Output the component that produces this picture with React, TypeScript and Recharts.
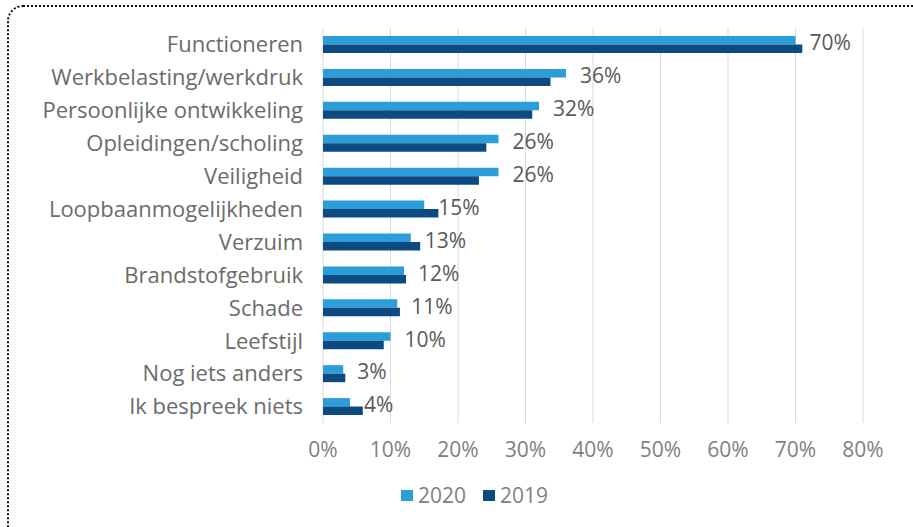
import React from 'react';
import { BarChart, Bar, XAxis, YAxis, CartesianGrid, Legend, LabelList } from 'recharts';

const categories = [
  'Functioneren',
  'Werkbelasting/werkdruk',
  'Persoonlijke ontwikkeling',
  'Opleidingen/scholing',
  'Veiligheid',
  'Loopbaanmogelijkheden',
  'Verzuim',
  'Brandstofgebruik',
  'Schade',
  'Leefstijl',
  'Nog iets anders',
  'Ik bespreek niets',
];
const values2020 = [70, 36, 32, 26, 26, 15, 13, 12, 11, 10, 3, 4];
const values2019 = [71, 33.7, 31, 24.2, 23.1, 17.1, 14.4, 12.3, 11.4, 9, 3.3, 5.9];
const xTicks = [0, 10, 20, 30, 40, 50, 60, 70, 80];
const seriesNames = ['2020', '2019'];
const colors = ['#2B9DD8', '#0D4A82'];

const data = categories.map((c, i) => ({ name: c, v2020: values2020[i], v2019: values2019[i] }));

const FONT = '"Open Sans", sans-serif';
const FS = 21;

const DataLabel = (props: any) => {
  const { x, y, width, height, value } = props;
  return (
    <text
      x={x + width + 14}
      y={y + height / 2 + 2}
      fill="#595959"
      fontSize={FS}
      fontFamily={FONT}
      dominantBaseline="central"
    >
      {`${value}%`}
    </text>
  );
};

const LegendContent = () => (
  <div
    style={{
      display: 'flex',
      justifyContent: 'center',
      alignItems: 'center',
      width: 913,
      height: 24,
      paddingLeft: 36,
      boxSizing: 'border-box',
      fontFamily: FONT,
      fontSize: FS,
      color: '#7f7f7f',
    }}
  >
    {seriesNames.map((n, i) => (
      <div key={n} style={{ display: 'flex', alignItems: 'center', marginRight: i === 0 ? 17 : 0 }}>
        <div style={{ width: 12, height: 11, background: colors[i], marginRight: 5 }} />
        <span>{n}</span>
      </div>
    ))}
  </div>
);

export default function App() {
  return (
    <div style={{ position: 'fixed', inset: 0, overflow: 'hidden', background: '#fff' }}>
      <div
        style={{
          position: 'absolute',
          left: 7,
          top: 5,
          width: 1200,
          height: 900,
          border: '2px dotted #111',
          borderRadius: 16,
        }}
      />
      <div style={{ position: 'absolute', left: 0, top: 0 }}>
        <BarChart
          width={913}
          height={527}
          data={data}
          layout="vertical"
          margin={{ top: 28, right: 50, bottom: 40, left: 0 }}
          barGap={0}
          barSize={8.5}
        >
          <CartesianGrid horizontal={false} stroke="#d9d9d9" strokeWidth={1} />
          <XAxis
            type="number"
            domain={[0, 80]}
            ticks={xTicks}
            tickFormatter={(v: number) => `${v}%`}
            axisLine={false}
            tickLine={false}
            tickSize={0}
            tickMargin={19}
            height={40}
            tick={{ fill: '#7f7f7f', fontSize: FS, fontFamily: FONT }}
            interval={0}
          />
          <YAxis
            type="category"
            dataKey="name"
            width={323}
            axisLine={false}
            tickLine={false}
            tickSize={0}
            tickMargin={20}
            interval={0}
            tick={{ fill: '#6b6b6b', fontSize: 22, fontFamily: FONT }}
          />
          <Legend
            content={<LegendContent />}
            wrapperStyle={{ position: 'absolute', left: 0, top: 483, width: 913, height: 24 }}
          />
          <Bar dataKey="v2020" name={seriesNames[0]} fill={colors[0]} isAnimationActive={false}>
            <LabelList dataKey="v2020" content={<DataLabel />} />
          </Bar>
          <Bar dataKey="v2019" name={seriesNames[1]} fill={colors[1]} isAnimationActive={false} />
        </BarChart>
      </div>
    </div>
  );
}
